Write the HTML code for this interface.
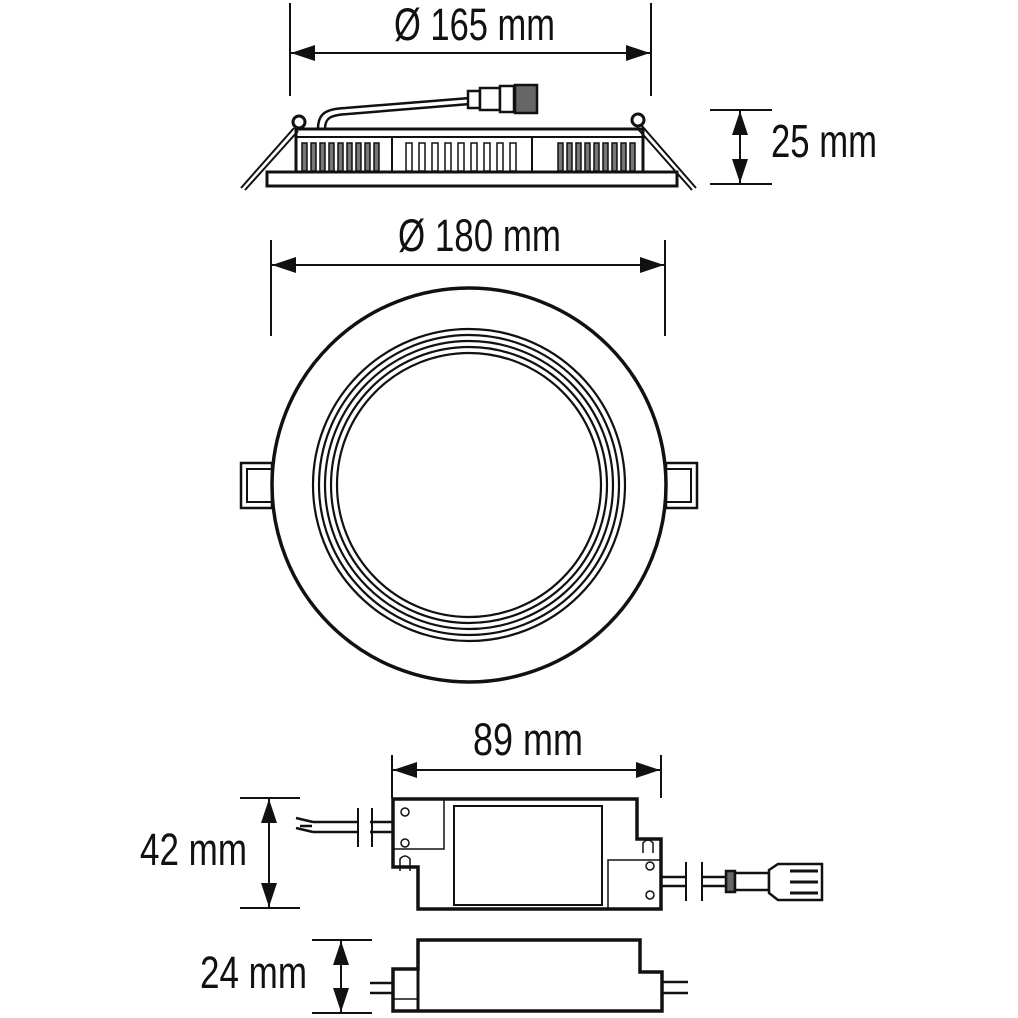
<!DOCTYPE html>
<html><head><meta charset="utf-8"><style>
html,body{margin:0;padding:0;background:#fff;}
svg{display:block;}
text{font-family:"Liberation Sans Narrow","Liberation Sans",sans-serif;fill:#111;}
</style></head><body>
<svg width="1018" height="1018" viewBox="0 0 1018 1018" xmlns="http://www.w3.org/2000/svg">
<defs>
<marker id="a" viewBox="0 0 24 16" refX="24" refY="8" markerWidth="24" markerHeight="16" markerUnits="userSpaceOnUse" orient="auto-start-reverse">
<path d="M0,0 L24,8 L0,16 Z" fill="#111"/></marker>
</defs>
<g stroke="#111" fill="none">
<!-- Ø165 dimension -->
<line x1="290" y1="3" x2="290" y2="96" stroke-width="2"/>
<line x1="651" y1="3" x2="651" y2="96" stroke-width="2"/>
<line x1="291" y1="53" x2="650" y2="53" stroke-width="2" marker-start="url(#a)" marker-end="url(#a)"/>

<!-- side view -->
<rect x="267" y="172" width="410" height="14" stroke-width="3"/>
<rect x="296" y="129" width="347" height="43" stroke-width="3"/>
<line x1="296" y1="137" x2="643" y2="137" stroke-width="2"/>
<line x1="392" y1="137" x2="392" y2="172" stroke-width="2"/>
<line x1="532" y1="137" x2="532" y2="172" stroke-width="2"/>
<g stroke-width="1.5" fill="#777">
<rect x="302" y="143" width="5" height="28"/><rect x="311" y="143" width="5" height="28"/><rect x="320" y="143" width="5" height="28"/><rect x="329" y="143" width="5" height="28"/><rect x="338" y="143" width="5" height="28"/><rect x="347" y="143" width="5" height="28"/><rect x="356" y="143" width="5" height="28"/><rect x="365" y="143" width="5" height="28"/><rect x="374" y="143" width="5" height="28"/>
<rect x="558" y="143" width="5" height="28"/><rect x="567" y="143" width="5" height="28"/><rect x="576" y="143" width="5" height="28"/><rect x="585" y="143" width="5" height="28"/><rect x="594" y="143" width="5" height="28"/><rect x="603" y="143" width="5" height="28"/><rect x="612" y="143" width="5" height="28"/><rect x="621" y="143" width="5" height="28"/><rect x="630" y="143" width="5" height="28"/>
</g>
<g stroke-width="1.5" fill="#fff">
<rect x="406" y="143" width="6" height="28"/><rect x="419" y="143" width="6" height="28"/><rect x="432" y="143" width="6" height="28"/><rect x="445" y="143" width="6" height="28"/><rect x="458" y="143" width="6" height="28"/><rect x="471" y="143" width="6" height="28"/><rect x="484" y="143" width="6" height="28"/><rect x="497" y="143" width="6" height="28"/><rect x="510" y="143" width="6" height="28"/>
</g>
<circle cx="299" cy="122" r="6" stroke-width="3" fill="#fff"/>
<circle cx="638" cy="120" r="6" stroke-width="3" fill="#fff"/>
<path d="M294,128 L241,188 M298,131 L245,190" stroke-width="2"/>
<path d="M642,126 L696,188 M638,129 L692,190" stroke-width="2"/>
<path d="M318,129 C318,114 325,109 345,108 L470,98" stroke-width="2.5"/>
<path d="M325,129 C325,118 330,115 348,114 L470,104" stroke-width="2.5"/>
<rect x="468" y="91" width="12" height="17" stroke-width="2.5" fill="#fff"/>
<rect x="480" y="88" width="20" height="22" stroke-width="2.5" fill="#fff"/>
<rect x="500" y="86" width="14" height="26" stroke-width="2.5" fill="#fff"/>
<rect x="515" y="85" width="22" height="28" stroke-width="2.5" fill="#666"/>

<!-- 25 mm -->
<line x1="710" y1="110" x2="772" y2="110" stroke-width="2"/>
<line x1="710" y1="184" x2="772" y2="184" stroke-width="2"/>
<line x1="740" y1="111" x2="740" y2="183" stroke-width="2" marker-start="url(#a)" marker-end="url(#a)"/>

<!-- Ø180 -->
<line x1="271" y1="240" x2="271" y2="336" stroke-width="2"/>
<line x1="665" y1="240" x2="665" y2="336" stroke-width="2"/>
<line x1="272" y1="265" x2="664" y2="265" stroke-width="2" marker-start="url(#a)" marker-end="url(#a)"/>

<!-- round top view -->
<rect x="241" y="463" width="31" height="45" stroke-width="2.5"/>
<rect x="247" y="469" width="25" height="33" stroke-width="2"/>
<rect x="666" y="463" width="31" height="45" stroke-width="2.5"/>
<rect x="666" y="469" width="25" height="33" stroke-width="2"/>
<circle cx="469" cy="485" r="197" stroke-width="3.5" fill="#fff"/>
<circle cx="469" cy="485" r="156" stroke-width="2.2"/>
<circle cx="469" cy="485" r="150" stroke-width="2.2"/>
<circle cx="469" cy="485" r="144" stroke-width="2.2"/>
<circle cx="469" cy="485" r="138" stroke-width="2.2"/>
<circle cx="469" cy="485" r="132" stroke-width="2.2"/>

<!-- 89 mm -->
<line x1="392" y1="755" x2="392" y2="798" stroke-width="2"/>
<line x1="661" y1="755" x2="661" y2="798" stroke-width="2"/>
<line x1="393" y1="770" x2="660" y2="770" stroke-width="2" marker-start="url(#a)" marker-end="url(#a)"/>

<!-- driver top -->
<path d="M393,799 L637,799 L637,839 L661,839 L661,909 L418,909 L418,867 L393,867 Z" stroke-width="3.5"/>
<rect x="454" y="806" width="148" height="99" stroke-width="2"/>
<path d="M393,849 L444,849 L444,799" stroke-width="1.5"/>
<circle cx="405" cy="812" r="4" stroke-width="1.5"/><circle cx="405" cy="843" r="4" stroke-width="1.5"/>
<path d="M400,871 L400,859 Q405,853 410,859 L410,871" stroke-width="1.5"/>
<path d="M608,909 L608,860 L661,860" stroke-width="1.5"/>
<circle cx="650" cy="866" r="4" stroke-width="1.5"/><circle cx="650" cy="895" r="4" stroke-width="1.5"/>
<path d="M643,853 L643,843 Q648,837 653,843 L653,853" stroke-width="1.5"/>
<!-- left wires -->
<path d="M393,822 L370,822 M393,832 L370,832 M357,822 L313,822 M357,832 L313,832" stroke-width="2.5"/>
<path d="M313,822 L296,818 M313,832 L296,828 M300,826 L312,826" stroke-width="2.5"/>
<line x1="358" y1="808" x2="358" y2="847" stroke-width="2"/>
<line x1="372" y1="808" x2="372" y2="847" stroke-width="2"/>
<!-- right wires & connector -->
<path d="M661,877 L686,877 M661,886 L686,886 M702,877 L727,877 M702,886 L727,886" stroke-width="2.5"/>
<line x1="686" y1="862" x2="686" y2="901" stroke-width="2"/>
<line x1="702" y1="862" x2="702" y2="901" stroke-width="2"/>
<rect x="726" y="871" width="9" height="21" stroke-width="2.5" fill="#666"/>
<rect x="735" y="873" width="34" height="17" stroke-width="2.5" fill="#fff"/>
<path d="M769,870 L778,864 L822,864 L822,900 L778,900 L769,893 Z" stroke-width="2.5" fill="#fff"/>
<path d="M790,871 L818,871 M790,882 L818,882 M790,893 L818,893" stroke-width="3"/>

<!-- 42 mm -->
<line x1="240" y1="798" x2="300" y2="798" stroke-width="2"/>
<line x1="240" y1="908" x2="300" y2="908" stroke-width="2"/>
<line x1="269" y1="799" x2="269" y2="907" stroke-width="2" marker-start="url(#a)" marker-end="url(#a)"/>

<!-- driver side -->
<path d="M418,940 L640,940 L640,972 L662,972 L662,1011 L393,1011 L393,969 L418,969 Z" stroke-width="3.5"/>
<line x1="418" y1="969" x2="418" y2="1011" stroke-width="3"/>
<line x1="393" y1="999" x2="418" y2="999" stroke-width="1.5"/>
<path d="M370,983 L393,983 M370,993 L393,993 M662,982 L688,982 M662,993 L688,993" stroke-width="2.5"/>

<!-- 24 mm -->
<line x1="312" y1="940" x2="372" y2="940" stroke-width="2"/>
<line x1="312" y1="1013" x2="372" y2="1013" stroke-width="2"/>
<line x1="341" y1="941" x2="341" y2="1012" stroke-width="2" marker-start="url(#a)" marker-end="url(#a)"/>
</g>
<text x="394" y="40" font-size="45" textLength="161" lengthAdjust="spacingAndGlyphs">Ø 165 mm</text>
<text x="771" y="157" font-size="46" textLength="106" lengthAdjust="spacingAndGlyphs">25 mm</text>
<text x="398" y="251" font-size="45" textLength="163" lengthAdjust="spacingAndGlyphs">Ø 180 mm</text>
<text x="473" y="755" font-size="45" textLength="110" lengthAdjust="spacingAndGlyphs">89 mm</text>
<text x="140" y="865" font-size="45" textLength="107" lengthAdjust="spacingAndGlyphs">42 mm</text>
<text x="200" y="988" font-size="45" textLength="107" lengthAdjust="spacingAndGlyphs">24 mm</text>
</svg>
</body></html>
